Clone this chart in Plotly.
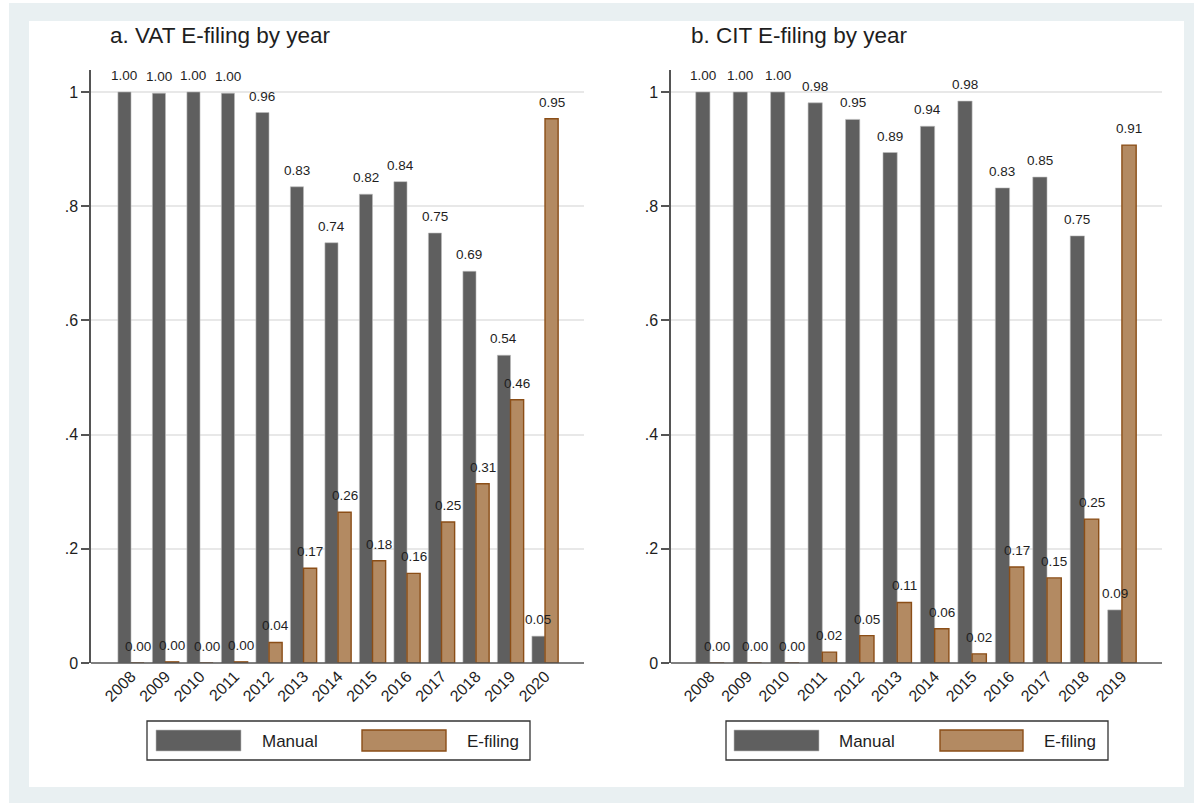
import plotly.graph_objects as go

W, H = 1194, 803
LAYOUT_H = 812  # rendered height compensation

# ---------------- data ----------------
vat_years = [2008, 2009, 2010, 2011, 2012, 2013, 2014, 2015, 2016, 2017, 2018, 2019, 2020]
vat_manual = [1.00, 0.998, 1.00, 0.998, 0.964, 0.834, 0.736, 0.821, 0.843, 0.753, 0.686, 0.539, 0.047]
vat_efiling = [0.0, 0.002, 0.0, 0.002, 0.036, 0.166, 0.264, 0.179, 0.157, 0.247, 0.314, 0.461, 0.953]

cit_years = [2008, 2009, 2010, 2011, 2012, 2013, 2014, 2015, 2016, 2017, 2018, 2019]
cit_manual = [1.00, 1.00, 1.00, 0.981, 0.952, 0.894, 0.940, 0.984, 0.832, 0.851, 0.748, 0.093]
cit_efiling = [0.0, 0.0, 0.0, 0.019, 0.048, 0.106, 0.060, 0.016, 0.168, 0.149, 0.252, 0.907]

titles = ["a. VAT E-filing by year", "b. CIT E-filing by year"]
series_names = ["Manual", "E-filing"]
ytick_vals = [0, 0.2, 0.4, 0.6, 0.8, 1.0]
ytick_text = ["0", ".2", ".4", ".6", ".8", "1"]

# ---------------- style ----------------
MANUAL_FILL = "#5F5F5F"
MANUAL_LINE = "#BEBEBE"
EFILE_FILL = "#B38A62"
EFILE_LINE = "#8B4E17"
FONT = "Arial, Liberation Sans, sans-serif"
TXT = "#1E1E1E"
BARGAP = 0.24


def px(x):
    return x / W


def py(y):
    return 1 - y / H


fig = go.Figure()

panels = [
    dict(years=vat_years, man=vat_manual, ef=vat_efiling, xa="x", ya="y",
         dom=[px(91), px(584)], rng=[2006.84, 2021.13]),
    dict(years=cit_years, man=cit_manual, ef=cit_efiling, xa="x2", ya="y2",
         dom=[px(671), px(1162)], rng=[2006.96, 2020.07]),
]

annotations = []
for p in panels:
    fig.add_trace(go.Bar(x=p["years"], y=p["man"], name=series_names[0],
                         marker=dict(color=MANUAL_FILL, line=dict(color=MANUAL_LINE, width=0.6)),
                         xaxis=p["xa"], yaxis=p["ya"], showlegend=False))
    fig.add_trace(go.Bar(x=p["years"], y=p["ef"], name=series_names[1],
                         marker=dict(color=EFILE_FILL, line=dict(color=EFILE_LINE, width=1.4)),
                         xaxis=p["xa"], yaxis=p["ya"], showlegend=False))
    off = (1 - BARGAP) / 4
    for yr, m, e in zip(p["years"], p["man"], p["ef"]):
        for xv, v in ((yr - off, m), (yr + off, e)):
            annotations.append(dict(x=xv, y=v, xref=p["xa"], yref=p["ya"],
                                    text=f"{v:.2f}", showarrow=False,
                                    yanchor="bottom", xanchor="center", yshift=7,
                                    font=dict(family=FONT, size=13.5, color=TXT)))

common_x = dict(showgrid=False, zeroline=False, showline=False, ticks="",
                tickangle=-45, tickfont=dict(family=FONT, size=16, color=TXT))
common_y = dict(range=[0, 1.0385], tickvals=ytick_vals, ticktext=ytick_text,
                showgrid=True, gridcolor="#E8E8E8", gridwidth=1.5,
                zeroline=False, showline=True, linecolor="#555555", linewidth=1.5,
                ticks="outside", ticklen=8, tickwidth=1.5, tickcolor="#555555",
                tickfont=dict(family=FONT, size=16, color=TXT))

ydom = [py(663), py(70)]

fig.update_layout(
    width=W, height=LAYOUT_H,
    autosize=False,
    margin=dict(l=0, r=0, t=0, b=0),
    paper_bgcolor="white", plot_bgcolor="white",
    barmode="group", bargap=BARGAP, bargroupgap=0,
    xaxis=dict(domain=panels[0]["dom"], range=panels[0]["rng"],
               tickvals=vat_years, ticktext=[str(y) for y in vat_years],
               anchor="y", **common_x),
    yaxis=dict(domain=ydom, anchor="x", **common_y),
    xaxis2=dict(domain=panels[1]["dom"], range=panels[1]["rng"],
                tickvals=cit_years, ticktext=[str(y) for y in cit_years],
                anchor="y2", **common_x),
    yaxis2=dict(domain=ydom, anchor="x2", **common_y),
)

shapes = [
    dict(type="rect", xref="paper", yref="paper", x0=px(9), x1=px(1194), y0=py(803), y1=py(3),
         fillcolor="#E9F0F2", line=dict(width=0), layer="below"),
    dict(type="rect", xref="paper", yref="paper", x0=px(29), x1=px(1184), y0=py(787), y1=py(21),
         fillcolor="white", line=dict(width=0), layer="below"),
]
# x-axis baselines (full width of each plot)
for p in panels:
    shapes.append(dict(type="line", xref="paper", yref="paper",
                       x0=p["dom"][0], x1=p["dom"][1], y0=py(663), y1=py(663),
                       line=dict(color="#555555", width=1.5)))

# custom legends
legend_specs = [
    dict(box=(147, 530), sw1=(156, 241), t1=260, sw2=(362, 446), t2=465),
    dict(box=(726, 1108), sw1=(734, 819), t1=837, sw2=(940, 1023), t2=1042),
]
for L in legend_specs:
    shapes.append(dict(type="rect", xref="paper", yref="paper",
                       x0=px(L["box"][0]), x1=px(L["box"][1]), y0=py(760), y1=py(721),
                       fillcolor="white", line=dict(color="#333333", width=1.3)))
    shapes.append(dict(type="rect", xref="paper", yref="paper",
                       x0=px(L["sw1"][0]), x1=px(L["sw1"][1]), y0=py(751), y1=py(730),
                       fillcolor=MANUAL_FILL, line=dict(color=MANUAL_LINE, width=0.6)))
    shapes.append(dict(type="rect", xref="paper", yref="paper",
                       x0=px(L["sw2"][0]), x1=px(L["sw2"][1]), y0=py(751), y1=py(730),
                       fillcolor=EFILE_FILL, line=dict(color=EFILE_LINE, width=1.4)))
    for xt, name in ((L["t1"], series_names[0]), (L["t2"], series_names[1])):
        annotations.append(dict(x=px(xt), y=py(741), xref="paper", yref="paper",
                                text=name, showarrow=False, xanchor="left", yanchor="middle",
                                font=dict(family=FONT, size=17, color=TXT)))

for xt, t in ((108, titles[0]), (689, titles[1])):
    annotations.append(dict(x=px(xt), y=py(36), xref="paper", yref="paper",
                            text=t, showarrow=False, xanchor="left", yanchor="middle",
                            font=dict(family=FONT, size=22.5, color=TXT)))

fig.update_layout(shapes=shapes, annotations=annotations)

fig.write_html("out.html",
               config={"displayModeBar": False, "responsive": False},
               post_script="document.body.style.margin='0';document.body.style.overflow='hidden';")
